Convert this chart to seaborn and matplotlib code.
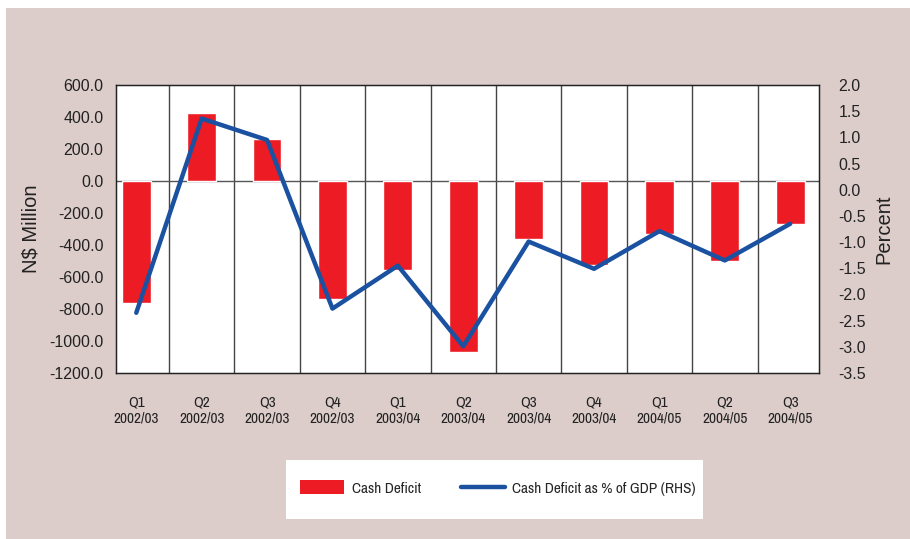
import numpy as np
import pandas as pd
import matplotlib
matplotlib.use("Agg")
import matplotlib.pyplot as plt
from matplotlib.patches import Rectangle
import seaborn as sns

# data
quarters = ["Q1", "Q2", "Q3", "Q4", "Q1", "Q2", "Q3", "Q4", "Q1", "Q2", "Q3"]
years = ["2002/03", "2002/03", "2002/03", "2002/03", "2003/04", "2003/04",
         "2003/04", "2003/04", "2004/05", "2004/05", "2004/05"]
cash_deficit = [-765, 425, 262, -740, -558, -1067, -365, -527, -330, -500, -270]
deficit_pct_gdp = [-2.35, 1.36, 0.95, -2.27, -1.45, -2.99, -0.99, -1.51, -0.79, -1.35, -0.65]

labels = [q + "\n" + y for q, y in zip(quarters, years)]
df = pd.DataFrame({"period": labels, "deficit": cash_deficit,
                   "pct": deficit_pct_gdp, "pos": np.arange(len(labels))})

sns.set_style("white")
plt.rcParams["font.family"] = ["Liberation Sans", "DejaVu Sans"]
narrow = ["Archivo Narrow", "Liberation Sans", "DejaVu Sans"]

bg = "#ddcdca"
red = "#ed1c24"
blue = "#1a51a0"

fig = plt.figure(figsize=(9.1, 5.39), dpi=100, facecolor="white")
fig.patches.append(Rectangle((6 / 910, 0), 1, 1 - 8 / 539, transform=fig.transFigure,
                             facecolor=bg, edgecolor="none", zorder=-10))
ax = fig.add_axes([116 / 910, 1 - 373 / 539, 703 / 910, 288 / 539])
ax.set_facecolor("white")

sns.barplot(data=df, x="period", y="deficit", color=red, saturation=1,
            width=0.44, ax=ax, zorder=3)
ax.set_xlim(-0.31, 10.44)
ax.set_ylim(-1200, 600)
ax.set_yticks(np.arange(-1200, 601, 200))
ax.set_yticklabels([f"{v:.1f}" for v in np.arange(-1200, 601, 200)], fontsize=11.5,
                   color="#222222")
ax.tick_params(axis="y", length=0, pad=9)
ax.set_xlabel("")
ax.set_ylabel("N$ Million", fontsize=14.5, color="#222222", labelpad=6)

# category separators
ax.set_xticks(np.arange(0.5, len(labels) - 1, 1), minor=True)
ax.tick_params(axis="x", which="minor", length=9, width=1, color="#444444")
ax.tick_params(axis="x", which="major", length=0, pad=16)
ax.grid(True, axis="x", which="minor", color="#444444", lw=1, zorder=1)
for t in ax.get_xticklabels():
    t.set_family(narrow)
    t.set_fontsize(11)
    t.set_color("#222222")
ax.axhline(0, color="#555555", lw=1, zorder=2)
for s in ax.spines.values():
    s.set_color("#222222")
    s.set_linewidth(1)

ax2 = ax.twinx()
sns.lineplot(data=df, x="pos", y="pct", color=blue, lw=3.2, ax=ax2, zorder=4)
ax2.set_ylim(-3.5, 2.0)
ax2.set_yticks(np.arange(-3.5, 2.01, 0.5))
ax2.set_yticklabels([f"{v:.1f}" for v in np.arange(-3.5, 2.01, 0.5)], fontsize=11.5,
                    color="#222222")
ax2.tick_params(axis="y", length=0, pad=14)
ax2.set_ylabel("Percent", fontsize=14.5, color="#222222", labelpad=6)
ax2.set_xlim(-0.31, 10.44)
ax2.set_xlabel("")
for s in ax2.spines.values():
    s.set_color("#222222")

# legend on a white box
fig.patches.append(Rectangle((286 / 910, 1 - 519 / 539), 417 / 910, 59 / 539,
                             transform=fig.transFigure, facecolor="white",
                             edgecolor="none", zorder=-5))
handles = [Rectangle((0, 0), 1, 1, facecolor=red, edgecolor="none"),
           plt.Line2D([0], [0], color=blue, lw=3.2)]
fig.legend(handles, ["Cash Deficit", "Cash Deficit as % of GDP (RHS)"],
           loc="center left", bbox_to_anchor=(286 / 910, 1 - 488 / 539), ncol=2,
           frameon=False, handlelength=2.9, handleheight=1.0, handletextpad=0.5,
           columnspacing=2.6, prop={"family": narrow, "size": 11})

fig.savefig("out.png", dpi=100, facecolor=fig.get_facecolor())
